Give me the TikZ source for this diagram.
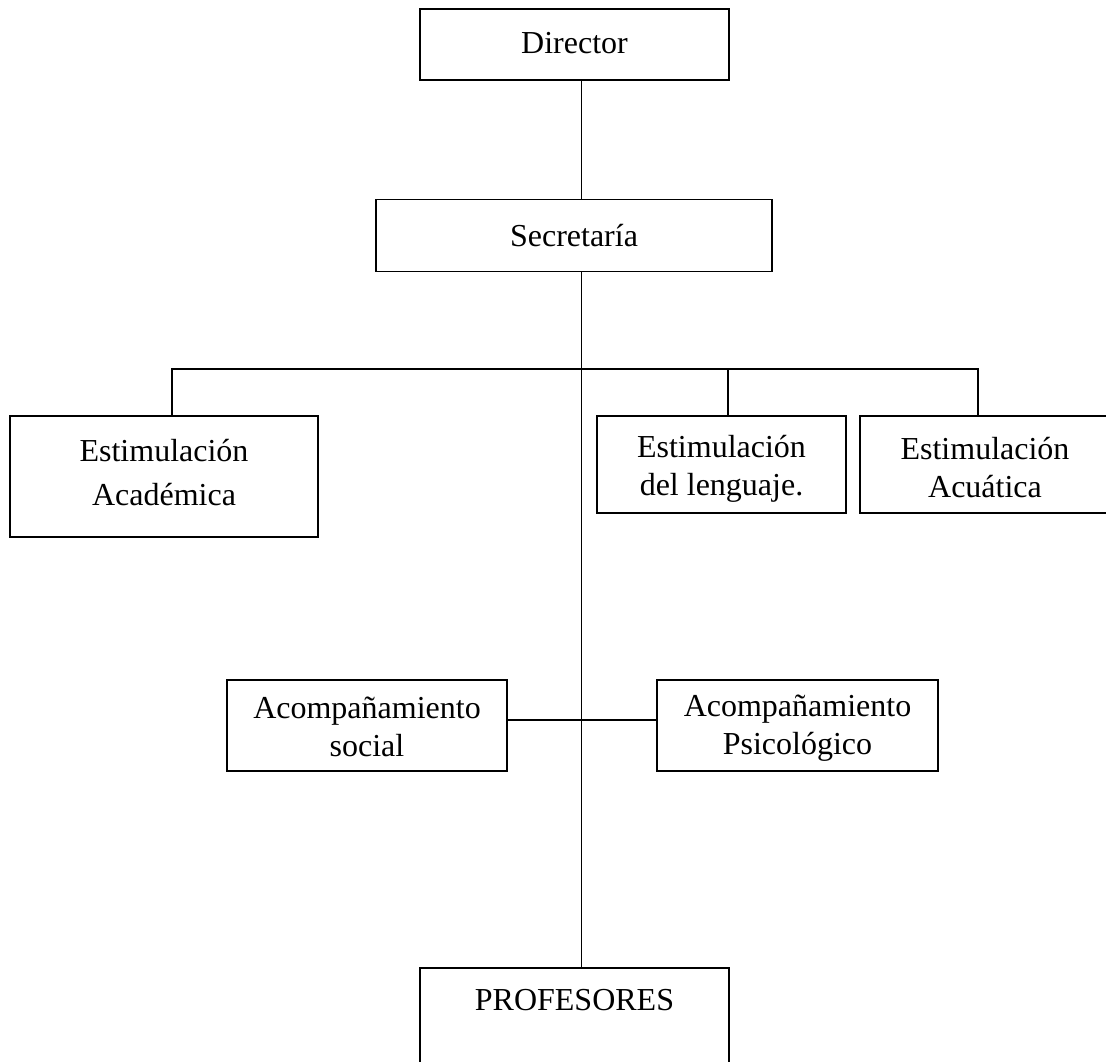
\documentclass[tikz,border=0pt]{standalone}
\usepackage{fontspec}
\setmainfont{Liberation Serif}
\begin{document}
\begin{tikzpicture}[x=1pt,y=-1pt,
  box/.style={draw,line width=1.8pt,rectangle,inner sep=0pt},
  lbl/.style={align=center,inner sep=0pt,font=\fontsize{32}{38}\selectfont},
  conn/.style={line width=1.8pt}]
\useasboundingbox (0,0) rectangle (1106,1061);
\clip (0,0) rectangle (1106,1061);
\fill[white] (0,0) rectangle (1106,1061);
% boxes
\node[box,minimum width=309pt,minimum height=71pt] (dir) at (574.5,44.5) {};
\node[box,minimum width=396pt,minimum height=72pt] (sec) at (574,235.5) {};
\node[box,minimum width=308pt,minimum height=121pt] (aca) at (164,476.5) {};
\node[box,minimum width=249pt,minimum height=97pt] (len) at (721.5,464.5) {};
\node[box,minimum width=250pt,minimum height=97pt] (acu) at (985,464.5) {};
\node[box,minimum width=280pt,minimum height=91pt] (soc) at (367,725.5) {};
\node[box,minimum width=281pt,minimum height=91pt] (psi) at (797.5,725.5) {};
\node[box,minimum width=309pt,minimum height=140pt] (prof) at (574.5,1038) {};
% texts
\node[lbl] (tdir) at (574.5,43) {Director};
\node[lbl] (tsec) at (sec.center) {Secretaría};
\node[lbl,font=\fontsize{32}{44}\selectfont] (taca) at (164,473) {Estimulación\\Académica};
\node[lbl] (tlen) at (721.5,469) {Estimulación\\del lenguaje.};
\node[lbl] (tacu) at (985,468) {Estimulación\\Acuática};
\node[lbl] (tsoc) at (367,727) {Acompañamiento\\social};
\node[lbl] (tpsi) at (797.5,728) {Acompañamiento\\Psicológico};
\node[lbl,anchor=north] (tprof) at ([yshift=-22pt]prof.north) {PROFESORES};
% connector helpers
\coordinate (tx) at (581.5,0);
\coordinate (bus) at (0,369);
\coordinate (mid) at (0,720);
\coordinate (bl) at (172,0);
\coordinate (bm) at (728,0);
\coordinate (br) at (978,0);
% connectors
\draw[conn] (dir.south -| tx) -- (sec.north -| tx);
\draw[conn] (sec.south -| tx) -- (prof.north -| tx);
\draw[conn] (aca.north -| bl) -- (bl |- bus) -- (br |- bus) -- (acu.north -| br);
\draw[conn] (bm |- bus) -- (len.north -| bm);
\draw[conn] (soc.east |- mid) -- (psi.west |- mid);
\end{tikzpicture}
\end{document}
